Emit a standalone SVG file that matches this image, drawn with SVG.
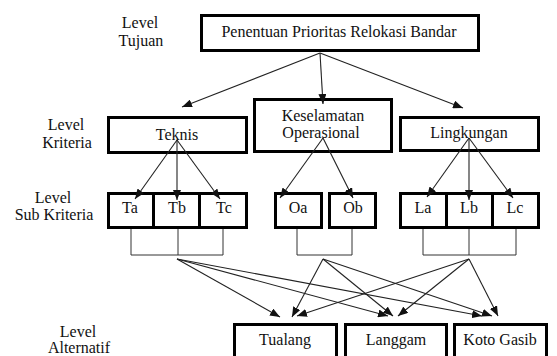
<svg xmlns="http://www.w3.org/2000/svg" width="557" height="356" viewBox="0 0 557 356" font-family="'Liberation Serif', 'DejaVu Serif', serif">
<defs>
<marker id="ah" markerUnits="userSpaceOnUse" markerWidth="10" markerHeight="8" refX="10" refY="4" orient="auto">
<path d="M0,0 L10,4 L0,8 z" fill="#111"/>
</marker>
<style>
text{font-family:'Liberation Serif','DejaVu Serif',serif;font-size:16px;fill:#111;text-anchor:middle}
.box{fill:#fff;stroke:#000;stroke-width:3}
.arr{stroke:#222;stroke-width:1.1;fill:none;marker-end:url(#ah)}
.br{stroke:#333;stroke-width:1;fill:none}
</style>
</defs>
<rect width="557" height="356" fill="#fff"/>
<g id="labels">
<text x="140" y="28">Level</text><text x="141" y="46">Tujuan</text>
<text x="66" y="130">Level</text><text x="67" y="148">Kriteria</text>
<text x="53" y="203">Level</text><text x="54" y="220">Sub Kriteria</text>
<text x="78" y="337">Level</text><text x="79" y="353">Alternatif</text>
</g>
<g id="goal"><rect class="box" x="201.5" y="15.5" width="277" height="35"/><text x="339" y="37">Penentuan Prioritas Relokasi Bandar</text></g>
<g id="teknis"><rect class="box" x="108.5" y="117.5" width="138" height="35"/><text x="177" y="140">Teknis</text></g>
<g id="keselamatan"><rect class="box" x="254.5" y="99.5" width="137" height="52"/><text x="323" y="121">Keselamatan</text><text x="321" y="138">Operasional</text></g>
<g id="lingkungan"><rect class="box" x="400.5" y="117.5" width="138" height="33"/><text x="469" y="138">Lingkungan</text></g>
<g id="ta"><rect class="box" x="108.5" y="193.5" width="45" height="34"/><text x="130" y="213">Ta</text></g>
<g id="tb"><rect class="box" x="153.5" y="193.5" width="46" height="34"/><text x="177" y="213">Tb</text></g>
<g id="tc"><rect class="box" x="199.5" y="193.5" width="47" height="34"/><text x="224" y="213">Tc</text></g>
<g id="oa"><rect class="box" x="275.5" y="193.5" width="46" height="34"/><text x="298" y="213">Oa</text></g>
<g id="ob"><rect class="box" x="329.5" y="193.5" width="46" height="34"/><text x="353" y="213">Ob</text></g>
<g id="la"><rect class="box" x="400.5" y="193.5" width="46" height="34"/><text x="423" y="213">La</text></g>
<g id="lb"><rect class="box" x="446.5" y="193.5" width="46" height="34"/><text x="469" y="213">Lb</text></g>
<g id="lc"><rect class="box" x="492.5" y="193.5" width="46" height="34"/><text x="515" y="213">Lc</text></g>
<g id="tualang"><rect class="box" x="234.5" y="324.5" width="102" height="40"/><text x="285" y="345">Tualang</text></g>
<g id="langgam"><rect class="box" x="345.5" y="324.5" width="101" height="40"/><text x="396" y="345">Langgam</text></g>
<g id="kotogasib"><rect class="box" x="454.5" y="324.5" width="92" height="40"/><text x="500" y="345">Koto Gasib</text></g>
<g id="connectors">
<path class="br" d="M131,229V255H223V229M178,229V255"/>
<path class="br" d="M297,229V255H352V229"/>
<path class="br" d="M423,229V255H516V229M469,229V255"/>
<line class="arr" x1="320" y1="53" x2="182" y2="107"/>
<line class="arr" x1="320" y1="53" x2="323" y2="104"/>
<line class="arr" x1="320" y1="53" x2="463" y2="108"/>
<line class="arr" x1="177" y1="140" x2="135" y2="199"/>
<line class="arr" x1="177" y1="140" x2="177" y2="200"/>
<line class="arr" x1="177" y1="140" x2="220" y2="199"/>
<line class="arr" x1="323" y1="138" x2="280" y2="198"/>
<line class="arr" x1="323" y1="138" x2="353" y2="198"/>
<line class="arr" x1="469" y1="138" x2="427" y2="197"/>
<line class="arr" x1="469" y1="138" x2="469" y2="200"/>
<line class="arr" x1="469" y1="138" x2="513" y2="198"/>
<line class="arr" x1="177" y1="259" x2="280" y2="317"/>
<line class="arr" x1="177" y1="259" x2="388" y2="316"/>
<line class="arr" x1="177" y1="259" x2="482" y2="316"/>
<line class="arr" x1="323" y1="259" x2="292" y2="317"/>
<line class="arr" x1="323" y1="259" x2="393" y2="316"/>
<line class="arr" x1="323" y1="259" x2="492" y2="316"/>
<line class="arr" x1="469" y1="259" x2="297" y2="316"/>
<line class="arr" x1="469" y1="259" x2="398" y2="316"/>
<line class="arr" x1="469" y1="259" x2="498" y2="316"/>
</g>
</svg>
